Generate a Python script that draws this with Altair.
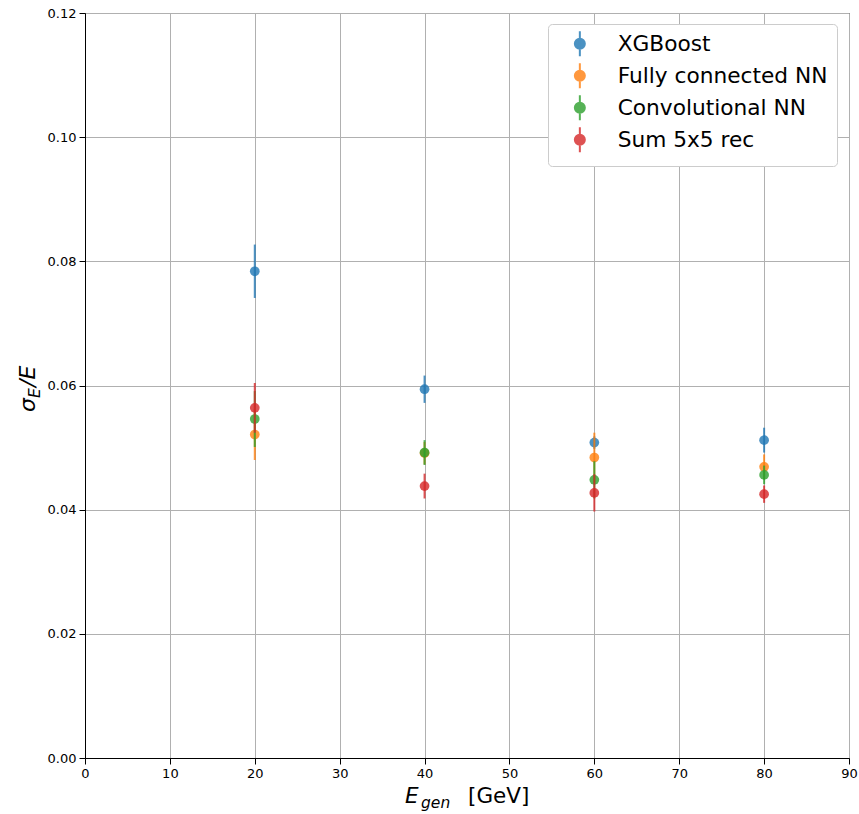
import altair as alt
import pandas as pd

energies = [20, 40, 60, 80]
series_names = ["XGBoost", "Fully connected NN", "Convolutional NN", "Sum 5x5 rec"]
colors = ["#1f77b4", "#ff7f0e", "#2ca02c", "#d62728"]

xgb_res = [0.0784, 0.0594, 0.0508, 0.0512]
xgb_err = [0.0043, 0.0022, 0.0010, 0.0020]
fcnn_res = [0.0521, 0.0491, 0.0484, 0.0469]
fcnn_err = [0.0041, 0.0018, 0.0040, 0.0020]
cnn_res = [0.0546, 0.0492, 0.0448, 0.0456]
cnn_err = [0.0045, 0.0020, 0.0030, 0.0015]
sum_res = [0.0564, 0.0438, 0.0427, 0.0425]
sum_err = [0.0040, 0.0020, 0.0030, 0.0014]

x_ticks = [0, 10, 20, 30, 40, 50, 60, 70, 80, 90]
y_ticks = [0.0, 0.02, 0.04, 0.06, 0.08, 0.10, 0.12]

rows = []
for name, vals, errs in zip(series_names,
                            [xgb_res, fcnn_res, cnn_res, sum_res],
                            [xgb_err, fcnn_err, cnn_err, sum_err]):
    for e, v, s in zip(energies, vals, errs):
        rows.append({"method": name, "energy": e, "res": v, "lo": v - s, "hi": v + s})
df = pd.DataFrame(rows)

W, H = 764, 745
FONT = "DejaVu Sans"

xscale = alt.Scale(domain=[0, 90], nice=False, zero=False)
yscale = alt.Scale(domain=[0, 0.12], nice=False, zero=False)
cscale = alt.Scale(domain=series_names, range=colors)

xaxis = alt.Axis(values=x_ticks, title=None, format="d", labelFontSize=13, labelColor="black",
                 domainColor="black", tickColor="black", tickSize=6, labelPadding=3,
                 gridColor="#b0b0b0", gridWidth=1, labelFont=FONT, labelFlush=False)
yaxis = alt.Axis(values=y_ticks, title=None, format=".2f", labelFontSize=13, labelColor="black",
                 domainColor="black", tickColor="black", tickSize=6, labelPadding=3,
                 gridColor="#b0b0b0", gridWidth=1, labelFont=FONT, labelFlush=False)

legend_symbol = "M-1,0A1,1,0,1,1,1,0A1,1,0,1,1,-1,0Z M0,-2.5L0,2.5"
leg = alt.Legend(title=None, symbolType=legend_symbol, symbolSize=100, symbolStrokeWidth=2,
                 symbolOpacity=0.8, labelFontSize=21.7, labelFont=FONT, labelColor="black",
                 labelLimit=500, orient="none", legendX=463, legendY=11, padding=9,
                 rowPadding=-2, symbolOffset=12, labelOffset=27, fillColor="white",
                 strokeColor="#cccccc", cornerRadius=4, offset=0)

base = alt.Chart(df)
layers = []
for i, name in enumerate(series_names):
    sub = base.transform_filter(alt.datum.method == name)
    rule = sub.mark_rule(strokeWidth=2, opacity=0.8).encode(
        x=alt.X("energy:Q", scale=xscale, axis=xaxis),
        y=alt.Y("lo:Q", scale=yscale, axis=yaxis),
        y2="hi:Q",
        stroke=alt.Stroke("method:N", scale=cscale, legend=leg),
    )
    pt = sub.mark_point(filled=True, size=95, opacity=0.8, strokeWidth=0).encode(
        x=alt.X("energy:Q", scale=xscale, axis=xaxis),
        y=alt.Y("res:Q", scale=yscale, axis=yaxis),
        fill=alt.Fill("method:N", scale=cscale, legend=leg),
    )
    layers += [rule, pt]

one = alt.Data(values=[{}])
ytitle = [
    alt.Chart(one).mark_text(text="σ", font=FONT, fontStyle="italic", fontSize=22, angle=270,
                             align="left", baseline="alphabetic", color="black")
    .encode(x=alt.value(-50), y=alt.value(399)),
    alt.Chart(one).mark_text(text="E", font=FONT, fontStyle="italic", fontSize=15.5, angle=270,
                             align="left", baseline="alphabetic", color="black")
    .encode(x=alt.value(-45), y=alt.value(385)),
    alt.Chart(one).mark_text(text="/E", font=FONT, fontStyle="italic", fontSize=22, angle=270,
                             align="left", baseline="alphabetic", color="black")
    .encode(x=alt.value(-50), y=alt.value(374)),
]
xtitle = [
    alt.Chart(one).mark_text(text="E", font=FONT, fontStyle="italic", fontSize=21.5,
                             align="left", baseline="alphabetic", color="black")
    .encode(x=alt.value(320), y=alt.value(790)),
    alt.Chart(one).mark_text(text="gen", font=FONT, fontStyle="italic", fontSize=15.5,
                             align="left", baseline="alphabetic", color="black")
    .encode(x=alt.value(336), y=alt.value(795)),
    alt.Chart(one).mark_text(text="[GeV]", font=FONT, fontSize=21.5,
                             align="left", baseline="alphabetic", color="black")
    .encode(x=alt.value(383), y=alt.value(790)),
]

chart = alt.layer(*layers, *ytitle, *xtitle).properties(
    width=W, height=H,
    autosize=alt.AutoSizeParams(type="none"),
    padding={"left": 85, "top": 13, "right": 10, "bottom": 56},
).configure_view(stroke="black", strokeWidth=1)

chart.save("out.html", embed_options={"renderer": "svg", "actions": False})
